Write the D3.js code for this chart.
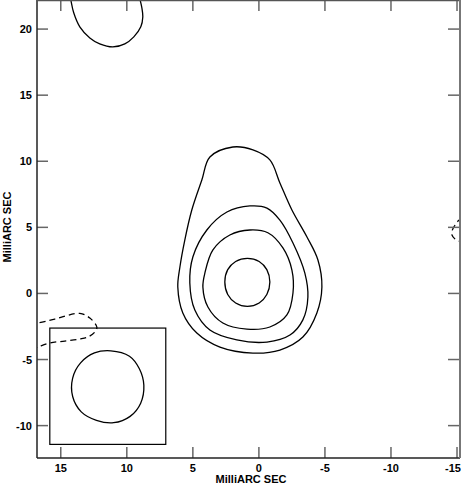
<!DOCTYPE html>
<html>
<head>
<meta charset="utf-8">
<script src="https://cdn.jsdelivr.net/npm/d3@7"></script>
<style>
  body { margin: 0; background: #fff; }
  svg { display: block; }
  text { font-family: "Liberation Sans", Arial, Helvetica, sans-serif; font-weight: bold; font-size: 11px; fill: #000; }
</style>
</head>
<body>
<svg width="461" height="483"></svg>
<script>
// contour levels, points in milliarcsec [x, y]
var outerLevel = [[1.97,11.08],[0.45,10.86],[-0.83,10.1],[-1.59,8.36],[-2.5,6.31],[-3.64,4.27],[-4.47,2.53],[-4.77,0.48],[-4.39,-1.48],[-3.33,-3.3],[-1.59,-4.28],[0.45,-4.51],[2.95,-4.06],[4.7,-3.0],[5.76,-1.48],[6.14,0.48],[5.98,2.0],[5.61,4.04],[5.08,6.31],[4.32,8.58],[3.71,10.32]];
var level2 = [[0.68,6.62],[2.42,6.16],[3.94,4.8],[5.0,2.76],[5.23,0.79],[4.85,-1.26],[3.71,-2.77],[1.67,-3.52],[-0.61,-3.68],[-2.35,-3.15],[-3.33,-2.0],[-3.71,-0.27],[-3.48,1.54],[-2.58,3.82],[-1.59,5.55],[-0.61,6.46]];
var level3 = [[0.68,4.8],[2.2,4.42],[3.48,3.29],[4.09,1.54],[4.24,0.48],[3.86,-1.03],[2.73,-2.24],[0.91,-2.7],[-0.83,-2.54],[-2.12,-1.63],[-2.58,0.03],[-2.5,1.77],[-1.82,3.44],[-0.68,4.59]];
var peakLevel = [[0.87,2.66],[-0.02,2.42],[-0.6,1.8],[-0.83,0.86],[-0.6,-0.08],[-0.02,-0.72],[0.87,-0.98],[1.76,-0.72],[2.36,-0.08],[2.58,0.86],[2.36,1.8],[1.76,2.42]];
var topLeftArc = [[14.32,22.59],[14.24,22.21],[14.02,21.23],[13.56,20.17],[12.8,19.33],[12.05,18.88],[11.06,18.65],[10.15,18.88],[9.47,19.41],[8.94,20.17],[8.79,20.92],[8.86,21.6],[9.09,22.59]];
// negative contours (dashed)
var negLeft = [[17.35,-2.24],[16.74,-2.22],[15.45,-1.94],[13.56,-1.51],[12.8,-1.86],[12.27,-2.54],[12.42,-2.92],[12.95,-3.3],[13.56,-3.45],[14.7,-3.6],[15.83,-3.75],[16.74,-4.06],[17.35,-4.28]];
var negRight = [[-15.38,5.71],[-15.08,5.48],[-14.85,5.18],[-14.62,4.72],[-14.62,4.42],[-14.85,4.12],[-15.38,3.89]];
// restoring beam and its box
var beamShape = [[11.21,-4.34],[9.8,-4.75],[9.05,-5.7],[8.71,-6.95],[8.95,-8.3],[9.75,-9.3],[11.0,-9.78],[12.3,-9.6],[13.45,-8.96],[14.1,-7.8],[14.1,-6.4],[13.5,-5.25],[12.45,-4.5]];
var beamBoxX = [15.83, 7.05];
var beamBoxY = [-2.62, -11.42];

var xTicks = [15, 10, 5, 0, -5, -10, -15];
var yTicks = [-10, -5, 0, 5, 10, 15, 20];
var axisTitle = "MilliARC SEC";

(function() {
  var svg = d3.select("svg");
  var x0 = 37, x1 = 459, y0 = 0, y1 = 458;

  var x = d3.scaleLinear().domain([16.8, -15.15]).range([x0, x1]);
  var y = d3.scaleLinear().domain([-12.45, 22.2]).range([y1, y0]);

  svg.append("clipPath").attr("id", "frame")
    .append("rect")
      .attr("x", x0).attr("y", y0)
      .attr("width", x1 - x0).attr("height", y1 - y0);

  var closedLine = d3.line()
    .x(function(d) { return x(d[0]); })
    .y(function(d) { return y(d[1]); })
    .curve(d3.curveCatmullRomClosed.alpha(0.5));

  var openLine = d3.line()
    .x(function(d) { return x(d[0]); })
    .y(function(d) { return y(d[1]); })
    .curve(d3.curveCatmullRom.alpha(0.5));

  var plot = svg.append("g").attr("clip-path", "url(#frame)");

  // ticks (inward on all four sides)
  var tickLen = 11;
  var ticks = svg.append("g").attr("stroke", "#666").attr("stroke-width", 1.5);
  xTicks.forEach(function(t) {
    ticks.append("line").attr("x1", x(t)).attr("x2", x(t)).attr("y1", y1).attr("y2", y1 - tickLen);
    ticks.append("line").attr("x1", x(t)).attr("x2", x(t)).attr("y1", y0).attr("y2", y0 + tickLen);
  });
  yTicks.forEach(function(t) {
    ticks.append("line").attr("y1", y(t)).attr("y2", y(t)).attr("x1", x0).attr("x2", x0 + tickLen);
    ticks.append("line").attr("y1", y(t)).attr("y2", y(t)).attr("x1", x1).attr("x2", x1 - tickLen);
  });

  [outerLevel, level2, level3, peakLevel].forEach(function(c) {
    plot.append("path").attr("d", closedLine(c))
      .attr("fill", "none").attr("stroke", "#000").attr("stroke-width", 1.3);
  });

  plot.append("path").attr("d", openLine(topLeftArc))
    .attr("fill", "none").attr("stroke", "#000").attr("stroke-width", 1.3);

  [negLeft, negRight].forEach(function(c) {
    plot.append("path").attr("d", openLine(c))
      .attr("fill", "none").attr("stroke", "#000").attr("stroke-width", 1.3)
      .attr("stroke-dasharray", "6,4");
  });

  // beam box
  plot.append("rect")
    .attr("x", x(beamBoxX[0])).attr("y", y(beamBoxY[0]))
    .attr("width", x(beamBoxX[1]) - x(beamBoxX[0]))
    .attr("height", y(beamBoxY[1]) - y(beamBoxY[0]))
    .attr("fill", "none").attr("stroke", "#000").attr("stroke-width", 1.2);

  plot.append("path").attr("d", closedLine(beamShape))
    .attr("fill", "none").attr("stroke", "#000").attr("stroke-width", 1.3);

  // frame
  svg.append("line").attr("x1", x0).attr("x2", x0).attr("y1", y0).attr("y2", y1)
    .attr("stroke", "#222").attr("stroke-width", 1.5);
  svg.append("line").attr("x1", x0).attr("x2", x1 + 1).attr("y1", y1).attr("y2", y1)
    .attr("stroke", "#222").attr("stroke-width", 1.5);
  svg.append("line").attr("x1", x0).attr("x2", x1 + 1).attr("y1", y0 + 0.5).attr("y2", y0 + 0.5)
    .attr("stroke", "#555").attr("stroke-width", 1.5);
  svg.append("line").attr("x1", x1 + 1).attr("x2", x1 + 1).attr("y1", y0).attr("y2", y1)
    .attr("stroke", "#777").attr("stroke-width", 2);

  // tick labels; the last one is kept inside the page edge
  svg.append("g").selectAll("text").data(xTicks).enter().append("text")
    .attr("x", function(d) { return Math.min(x(d), 453); })
    .attr("y", 472)
    .attr("text-anchor", "middle")
    .text(function(d) { return d; });

  svg.append("g").selectAll("text").data(yTicks).enter().append("text")
    .attr("x", 32)
    .attr("y", function(d) { return y(d) + 4; })
    .attr("text-anchor", "end")
    .text(function(d) { return d; });

  svg.append("text")
    .attr("x", 251).attr("y", 482.5)
    .attr("text-anchor", "middle")
    .text(axisTitle);

  svg.append("text")
    .attr("transform", "translate(11,227) rotate(-90)")
    .attr("text-anchor", "middle")
    .text(axisTitle);
})();
</script>
</body>
</html>
